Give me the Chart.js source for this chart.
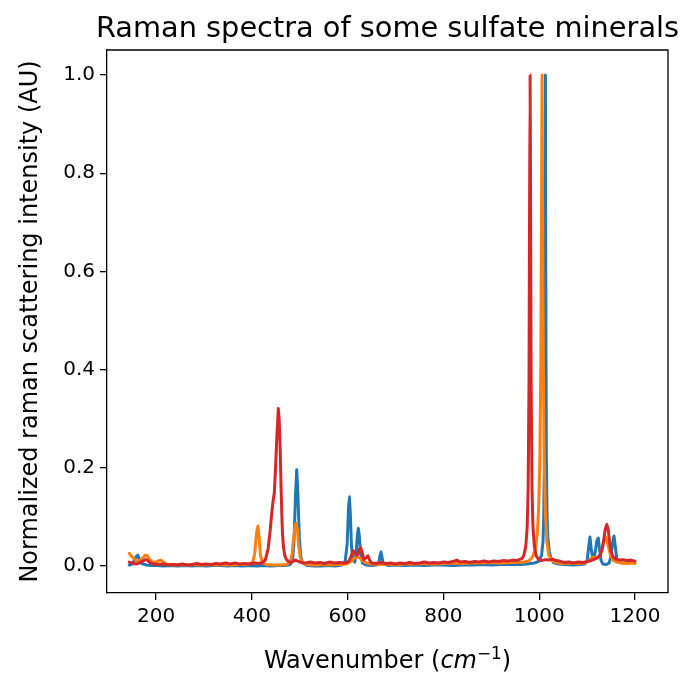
<!DOCTYPE html>
<html>
<head>
<meta charset="utf-8">
<title>Raman spectra of some sulfate minerals</title>
<script src="https://cdn.jsdelivr.net/npm/chart.js@4.4.1/dist/chart.umd.min.js"></script>
<style>
  html, body { margin: 0; padding: 0; background: #fff; }
  #wrap { width: 685px; height: 673px; }
</style>
</head>
<body>
<div id="wrap"><canvas id="spectra" width="685" height="673"></canvas></div>
<script>
// ---- data (wavenumber cm^-1 / normalized intensity) ----
const TITLE = "Raman spectra of some sulfate minerals";
const Y_LABEL = "Normalized raman scattering intensity (AU)";

const xTicks = [200, 400, 600, 800, 1000, 1200];
const yTicks = [0.0, 0.2, 0.4, 0.6, 0.8, 1.0];

// blue spectrum
const blueX = [144, 150, 156, 159, 162, 165, 170, 180, 190, 200, 215, 230, 245, 260, 275, 290, 305, 320, 335, 350,
  365, 380, 395, 410, 425, 440, 455, 470, 480, 485, 488, 491, 493.7, 496, 499, 502, 506, 515, 530, 545,
  560, 575, 588, 595, 599, 601.5, 603.5, 605.5, 608, 611, 615, 618, 620.5, 622.3, 624.5, 627, 631, 640, 650, 660,
  665, 667.5, 669.5, 671.5, 674, 685, 700, 720, 740, 760, 780, 800, 820, 840, 860, 880, 900, 920, 940, 960,
  975, 990, 1000, 1005, 1008, 1009.5, 1011, 1012.3, 1013, 1013.7, 1015, 1016.5, 1018, 1021, 1025, 1030, 1040, 1055, 1070, 1085,
  1095, 1100, 1103, 1106, 1109, 1112, 1115, 1118, 1120.5, 1123.4, 1126, 1129, 1133, 1140, 1146, 1150, 1153, 1156.2, 1159, 1162,
  1166, 1175, 1185, 1193, 1200];
const blueY = [0.002, 0.004, 0.014, 0.020, 0.022, 0.014, 0.005, 0.002, 0.001, 0.001, 0.000, 0.001, 0.000, 0.001, 0.000, 0.001, 0.000, 0.001, 0.001, 0.000,
  0.001, 0.000, 0.001, 0.000, 0.001, 0.000, 0.001, 0.001, 0.003, 0.012, 0.050, 0.140, 0.196, 0.150, 0.060, 0.020, 0.006, 0.001, 0.000, 0.000,
  0.001, 0.000, 0.002, 0.010, 0.045, 0.110, 0.141, 0.110, 0.040, 0.012, 0.008, 0.030, 0.065, 0.077, 0.060, 0.025, 0.006, 0.002, 0.001, 0.002,
  0.006, 0.020, 0.029, 0.020, 0.005, 0.001, 0.002, 0.001, 0.002, 0.001, 0.002, 0.002, 0.001, 0.002, 0.002, 0.003, 0.002, 0.003, 0.003, 0.003,
  0.004, 0.006, 0.010, 0.022, 0.050, 0.100, 0.220, 0.600, 1.000, 0.600, 0.220, 0.100, 0.060, 0.030, 0.014, 0.007, 0.004, 0.003, 0.002, 0.003,
  0.004, 0.010, 0.035, 0.059, 0.032, 0.016, 0.018, 0.035, 0.052, 0.057, 0.035, 0.012, 0.004, 0.003, 0.006, 0.020, 0.045, 0.061, 0.040, 0.015,
  0.007, 0.006, 0.007, 0.008, 0.009];

// orange spectrum
const orangeX = [144, 147, 150, 155, 160, 165, 172, 177, 181, 186, 192, 200, 206, 210, 215, 222, 235, 250, 265, 280,
  295, 310, 325, 340, 355, 370, 385, 395, 402, 406, 409, 412.3, 415, 418, 422, 430, 445, 460, 472, 480,
  484, 487, 490, 492.3, 495, 498, 501, 505, 515, 530, 545, 560, 575, 590, 600, 608, 614, 620, 626, 632,
  640, 650, 665, 680, 700, 720, 740, 760, 780, 800, 820, 840, 860, 880, 900, 920, 940, 955, 968, 978,
  986, 992, 996, 999, 1001.5, 1003.5, 1005, 1006, 1007, 1008.5, 1010.5, 1013, 1016, 1020, 1026, 1035, 1050, 1065, 1080, 1095,
  1103, 1108, 1113, 1120, 1126, 1131, 1135, 1138, 1141, 1145, 1149, 1154, 1162, 1172, 1185, 1193, 1200];
const orangeY = [0.026, 0.022, 0.018, 0.014, 0.010, 0.010, 0.016, 0.022, 0.022, 0.014, 0.008, 0.008, 0.011, 0.012, 0.008, 0.004, 0.002, 0.003, 0.002, 0.003,
  0.002, 0.003, 0.002, 0.003, 0.002, 0.003, 0.003, 0.004, 0.008, 0.025, 0.060, 0.082, 0.060, 0.022, 0.007, 0.003, 0.002, 0.002, 0.003, 0.008,
  0.025, 0.055, 0.080, 0.087, 0.075, 0.040, 0.018, 0.007, 0.003, 0.002, 0.003, 0.002, 0.003, 0.003, 0.005, 0.010, 0.016, 0.018, 0.016, 0.010,
  0.006, 0.004, 0.003, 0.004, 0.003, 0.004, 0.004, 0.005, 0.004, 0.005, 0.006, 0.005, 0.006, 0.006, 0.007, 0.006, 0.007, 0.007, 0.008, 0.010,
  0.018, 0.035, 0.065, 0.120, 0.220, 0.420, 0.750, 1.000, 0.750, 0.420, 0.220, 0.110, 0.050, 0.022, 0.012, 0.007, 0.005, 0.006, 0.005, 0.006,
  0.010, 0.016, 0.018, 0.017, 0.020, 0.032, 0.050, 0.060, 0.055, 0.038, 0.022, 0.012, 0.008, 0.006, 0.005, 0.006, 0.005];

// red spectrum
const redX = [144, 150, 158, 165, 172, 178, 182, 187, 195, 205, 215, 225, 235, 245, 255, 265, 275, 285, 295, 305,
  315, 325, 335, 345, 355, 365, 375, 385, 395, 405, 415, 422, 428, 434, 438, 441.5, 444, 447, 449.5, 452,
  455.3, 457, 459, 461, 462.5, 464, 466, 469, 473, 480, 486, 491, 496, 503, 512, 522, 532, 542, 552, 562,
  572, 582, 592, 598, 603, 608, 612, 616, 620, 624, 627.4, 631, 634, 638, 642, 646, 650, 660, 670, 680,
  690, 700, 710, 720, 730, 740, 750, 760, 770, 780, 790, 800, 810, 820, 828, 835, 845, 855, 865, 875,
  885, 895, 905, 915, 925, 935, 945, 952, 958, 964, 968, 972, 975, 977, 978.8, 980, 981, 982, 983.2, 985,
  987, 990, 994, 999, 1005, 1012, 1020, 1028, 1035, 1043, 1052, 1062, 1072, 1082, 1092, 1100, 1108, 1116, 1122, 1127,
  1131, 1135, 1138, 1141, 1144, 1147, 1150, 1154, 1160, 1168, 1176, 1184, 1192, 1200];
const redY = [0.008, 0.006, 0.004, 0.006, 0.010, 0.013, 0.012, 0.007, 0.004, 0.003, 0.004, 0.002, 0.003, 0.002, 0.004, 0.002, 0.003, 0.005, 0.003, 0.004,
  0.003, 0.005, 0.004, 0.006, 0.004, 0.006, 0.004, 0.005, 0.004, 0.006, 0.005, 0.007, 0.012, 0.035, 0.070, 0.107, 0.130, 0.150, 0.200, 0.260,
  0.321, 0.300, 0.243, 0.160, 0.107, 0.065, 0.039, 0.020, 0.012, 0.007, 0.009, 0.012, 0.010, 0.007, 0.006, 0.008, 0.006, 0.007, 0.005, 0.008,
  0.006, 0.007, 0.006, 0.007, 0.010, 0.022, 0.031, 0.025, 0.022, 0.034, 0.037, 0.025, 0.013, 0.016, 0.021, 0.012, 0.006, 0.005, 0.007, 0.005,
  0.006, 0.004, 0.006, 0.005, 0.007, 0.005, 0.006, 0.008, 0.006, 0.007, 0.006, 0.008, 0.007, 0.009, 0.012, 0.008, 0.009, 0.007, 0.009, 0.008,
  0.010, 0.008, 0.010, 0.009, 0.011, 0.010, 0.012, 0.011, 0.013, 0.015, 0.022, 0.040, 0.080, 0.160, 0.380, 0.750, 1.000, 0.750, 0.380, 0.160,
  0.080, 0.040, 0.020, 0.013, 0.011, 0.013, 0.012, 0.014, 0.011, 0.010, 0.007, 0.008, 0.006, 0.008, 0.007, 0.009, 0.011, 0.014, 0.017, 0.022,
  0.032, 0.055, 0.075, 0.085, 0.075, 0.050, 0.030, 0.019, 0.014, 0.012, 0.013, 0.011, 0.012, 0.010];

const FONT = "'DejaVu Sans', 'Liberation Sans', sans-serif";

function toPoints(xs, ys) {
  return xs.map((x, i) => ({ x: x, y: ys[i] }));
}

// matplotlib-like frame, title and x label with math text
const framePlugin = {
  id: "frame",
  beforeDraw(chart) {
    const ctx = chart.ctx;
    ctx.save();
    ctx.fillStyle = "#fff";
    ctx.fillRect(0, 0, chart.width, chart.height);
    ctx.restore();
  },
  afterDraw(chart) {
    const ctx = chart.ctx;
    const a = chart.chartArea;
    const cx = (a.left + a.right) / 2;
    ctx.save();
    // top + right spines
    ctx.strokeStyle = "#000";
    ctx.lineWidth = 1.3;
    ctx.beginPath();
    ctx.moveTo(a.left, a.top);
    ctx.lineTo(a.right, a.top);
    ctx.lineTo(a.right, a.bottom);
    ctx.stroke();

    // title
    ctx.fillStyle = "#000";
    ctx.textBaseline = "alphabetic";
    ctx.textAlign = "center";
    ctx.font = "28.8px " + FONT;
    ctx.fillText(TITLE, cx, 37);

    // x label: Wavenumber ($cm^{-1}$)
    const parts = [
      { t: "Wavenumber (", f: "24px " + FONT, dy: 0 },
      { t: "cm", f: "italic 24px " + FONT, dy: 0 },
      { t: "\u22121", f: "16.8px " + FONT, dy: -9 },
      { t: ")", f: "24px " + FONT, dy: 0 },
    ];
    let total = 0;
    parts.forEach(p => { ctx.font = p.f; p.w = ctx.measureText(p.t).width; total += p.w; });
    let x = cx - total / 2;
    ctx.textAlign = "left";
    parts.forEach(p => {
      ctx.font = p.f;
      ctx.fillText(p.t, x, 668 + p.dy);
      x += p.w;
    });
    ctx.restore();
  },
};

const ctx = document.getElementById("spectra").getContext("2d");
const chart = new Chart(ctx, {
  type: "line",
  data: {
    datasets: [
      { label: "blue", data: toPoints(blueX, blueY), borderColor: "#1f77b4", order: 3 },
      { label: "orange", data: toPoints(orangeX, orangeY), borderColor: "#ff7f0e", order: 2 },
      { label: "red", data: toPoints(redX, redY), borderColor: "#d62728", order: 1 },
    ],
  },
  options: {
    responsive: false,
    animation: false,
    devicePixelRatio: 1,
    layout: { padding: { left: 0, right: 17, top: 50, bottom: 0 } },
    elements: {
      point: { radius: 0 },
      // tiny tension keeps Chart.js off its pixel-merging fast path
      line: { borderWidth: 3, tension: 0.001, borderJoinStyle: "round", borderCapStyle: "round", capBezierPoints: false },
    },
    plugins: {
      legend: { display: false },
      tooltip: { enabled: false },
      title: { display: false },
    },
    scales: {
      x: {
        type: "linear",
        min: 97.5,
        max: 1269,
        afterFit: (s) => { s.height = 80; },
        afterBuildTicks: (s) => { s.ticks = xTicks.map(v => ({ value: v })); },
        ticks: {
          color: "#000",
          font: { family: FONT, size: 20 },
          padding: 5,
          maxRotation: 0,
          callback: (v) => String(v),
        },
        grid: { drawOnChartArea: false, drawTicks: true, tickLength: 7, color: "#000", lineWidth: 1.3 },
        border: { display: true, color: "#000", width: 1.3 },
      },
      y: {
        type: "linear",
        min: -0.055,
        max: 1.051,
        afterFit: (s) => { s.width = 107; },
        afterBuildTicks: (s) => { s.ticks = yTicks.map(v => ({ value: v })); },
        ticks: {
          color: "#000",
          font: { family: FONT, size: 20 },
          padding: 5,
          callback: (v) => v.toFixed(1),
        },
        grid: { drawOnChartArea: false, drawTicks: true, tickLength: 7, color: "#000", lineWidth: 1.3 },
        border: { display: true, color: "#000", width: 1.3 },
        title: {
          display: true,
          text: Y_LABEL,
          color: "#000",
          font: { family: FONT, size: 24 },
          padding: { top: 16, bottom: 0 },
        },
      },
    },
  },
  plugins: [framePlugin],
});
</script>
</body>
</html>
